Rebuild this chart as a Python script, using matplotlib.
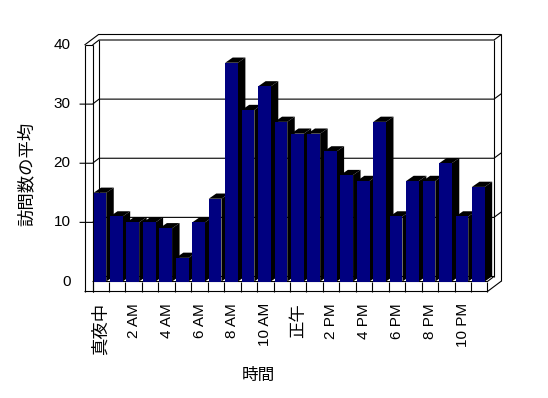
import matplotlib
matplotlib.use('Agg')
import matplotlib.pyplot as plt
from matplotlib.patches import Polygon

# ---- data ----
hours = list(range(24))
visits = [15, 11, 10, 10, 9, 4, 10, 14, 37, 29, 33, 27,
          25, 25, 22, 18, 17, 27, 11, 17, 17, 20, 11, 16]
tick_labels = ['真夜中', '2 AM', '4 AM', '6 AM', '8 AM', '10 AM',
               '正午', '2 PM', '4 PM', '6 PM', '8 PM', '10 PM']
y_ticks = [0, 10, 20, 30, 40]
grid_vals = [10, 20, 30]
ylabel = '訪問数の平均'
xlabel = '時間'

NAVY = '#000080'
W, H = 548, 398
fig = plt.figure(figsize=(W / 100, H / 100), dpi=100)
x0p, x1p = 92.55, 487.45
y0p, y1p = 281.5, 45.0
ax = fig.add_axes([x0p / W, (H - y0p) / H, (x1p - x0p) / W, (y0p - y1p) / H])
ax.set_xlim(0, 24)
ax.set_ylim(0, 40)
ax.axis('off')

sx = (x1p - x0p) / 24
sy = (y0p - y1p) / 40


def px(dx, dy):
    return dx / sx, dy / sy


bdx, bdy = px(6.5, 5.0)     # back wall inner depth
odx, ody = px(14.0, 10.5)   # back wall outer depth
rdx, rdy = px(7.5, 5.2)     # bar depth
lw_x = px(8.0, 0)[0]        # left wall thickness
fl_y = px(0, 10)[1]         # floor thickness
tick_len = px(5, 0)[0]
N = len(visits)
YMAX = y_ticks[-1]

kw = dict(color='black', lw=0.8, clip_on=False, zorder=1, solid_capstyle='butt')


def line(xs, ys):
    ax.plot(xs, ys, **kw)


# frame
line([-lw_x, -lw_x], [-fl_y, YMAX])
line([0, 0], [-fl_y, YMAX])
line([-lw_x, 0], [YMAX, YMAX])
line([-lw_x, -lw_x + odx, N + odx], [YMAX, YMAX + ody, YMAX + ody])
line([0, bdx, N + bdx, N + odx], [YMAX, YMAX + bdy, YMAX + bdy, YMAX + ody])
line([bdx, bdx], [bdy, YMAX + bdy])
line([N + bdx, N + bdx], [bdy, YMAX + bdy])
line([N + odx, N + odx], [-fl_y + ody, YMAX + ody])
line([-lw_x, N, N + odx], [-fl_y, -fl_y, -fl_y + ody])
line([0, N, N + bdx, bdx], [0, 0, bdy, bdy])
for k in range(N + 1):
    line([k, k], [-fl_y, 0])

# gridlines and ticks
for v in grid_vals:
    line([-lw_x - tick_len, 0, bdx, N + bdx, N + odx],
         [v, v, v + bdy, v + bdy, v + ody])

# bars
off = 1.0 / sx
w = 12.7 / sx
bars = ax.bar([h + off for h in hours], visits, width=w, align='edge',
              color=NAVY, linewidth=0)
for i, (b, v) in enumerate(zip(bars, visits)):
    xl = hours[i] + off
    xr = xl + w
    side = Polygon([(xr, 0), (xr + rdx, rdy), (xr + rdx, v + rdy), (xr, v)],
                   closed=True, facecolor='black', edgecolor='none',
                   zorder=2 + 2 * i, clip_on=False)
    top = Polygon([(xl, v), (xr, v), (xr + rdx, v + rdy), (xl + rdx, v + rdy)],
                  closed=True, facecolor='black', edgecolor='none',
                  zorder=2 + 2 * i, clip_on=False)
    ax.add_patch(side)
    ax.add_patch(top)
    b.set_zorder(3 + 2 * i)

# y tick labels
for v in y_ticks:
    ax.text(-lw_x - tick_len - px(9, 0)[0], v, str(v), ha='right', va='center',
            fontsize=11, family=['Liberation Sans', 'Noto Sans CJK JP'])

# x tick labels
lab_y = -fl_y - px(0, 11.5)[1]
for j, lab in enumerate(tick_labels):
    is_cjk = any(ord(c) > 0x2E80 for c in lab)
    ax.text(2 * j + 0.5, lab_y, lab, rotation=90, ha='center', va='top',
            fontsize=12.5 if is_cjk else 11,
            family=['Liberation Sans', 'Noto Sans CJK JP'],
            clip_on=False)

fig.text(27 / W, 1 - 174 / H, ylabel, rotation=90, ha='center', va='center',
         fontsize=12.5, family=['Noto Sans CJK JP'])
fig.text(258.5 / W, 1 - 375.5 / H, xlabel, ha='center', va='center',
         fontsize=12, family=['Noto Sans CJK JP'])

fig.savefig('out.png', dpi=100)
